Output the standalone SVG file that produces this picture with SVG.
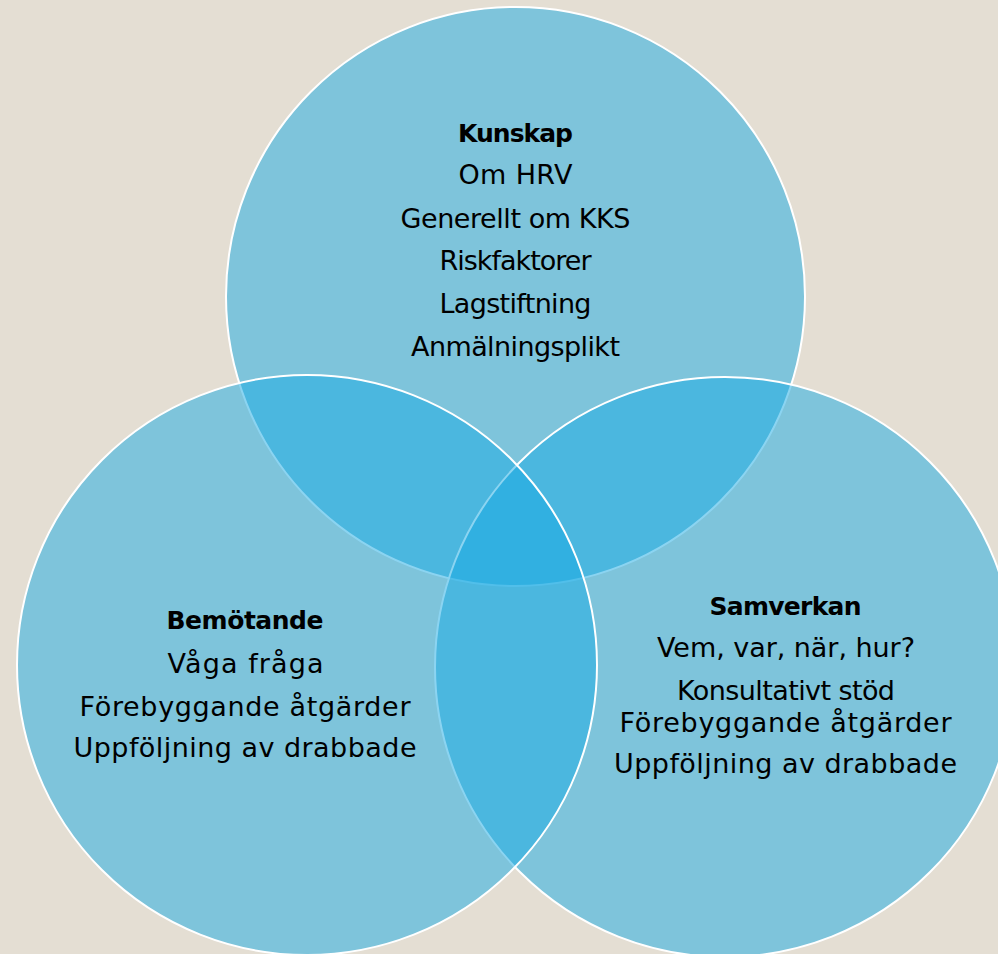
<svg xmlns="http://www.w3.org/2000/svg" width="998" height="954" viewBox="0 0 998 954">
  <style>
    .bg { fill: #E4DED3; }
    .c { fill: #18AAE3; fill-opacity: 0.5; stroke: #FFFFFF; stroke-width: 2; }
    .t { font-family: "DejaVu Sans", "Liberation Sans", sans-serif; font-size: 27px; fill: #000000; text-anchor: middle; }
    .h { font-weight: bold; font-size: 25px; }
  </style>
  <rect class="bg" x="0" y="0" width="998" height="954"/>
  <g id="kunskap">
    <circle class="c" cx="515.5" cy="296.5" r="289.5"/>
    <text class="t h" x="515.5" y="142" textLength="115">Kunskap</text>
    <text class="t" x="515.5" y="184" textLength="114">Om HRV</text>
    <text class="t" x="515.5" y="228" textLength="230">Generellt om KKS</text>
    <text class="t" x="515.5" y="270" textLength="152">Riskfaktorer</text>
    <text class="t" x="515.5" y="313" textLength="152">Lagstiftning</text>
    <text class="t" x="515.5" y="356" textLength="209">Anmälningsplikt</text>
  </g>
  <g id="samverkan">
    <circle class="c" cx="725" cy="667" r="290"/>
    <text class="t h" x="785.5" y="615" textLength="152">Samverkan</text>
    <text class="t" x="786" y="657" textLength="258">Vem, var, när, hur?</text>
    <text class="t" x="786" y="700" textLength="218">Konsultativt stöd</text>
    <text class="t" x="785.5" y="732" textLength="332">Förebyggande åtgärder</text>
    <text class="t" x="785.5" y="773" textLength="343">Uppföljning av drabbade</text>
  </g>
  <g id="bemotande">
    <circle class="c" cx="307" cy="665" r="290"/>
    <text class="t h" x="245" y="629" textLength="157">Bemötande</text>
    <text class="t" x="245.5" y="673" textLength="156">Våga fråga</text>
    <text class="t" x="245" y="716" textLength="331">Förebyggande åtgärder</text>
    <text class="t" x="245" y="757" textLength="343">Uppföljning av drabbade</text>
  </g>
  <g id="connectors"/>
</svg>
